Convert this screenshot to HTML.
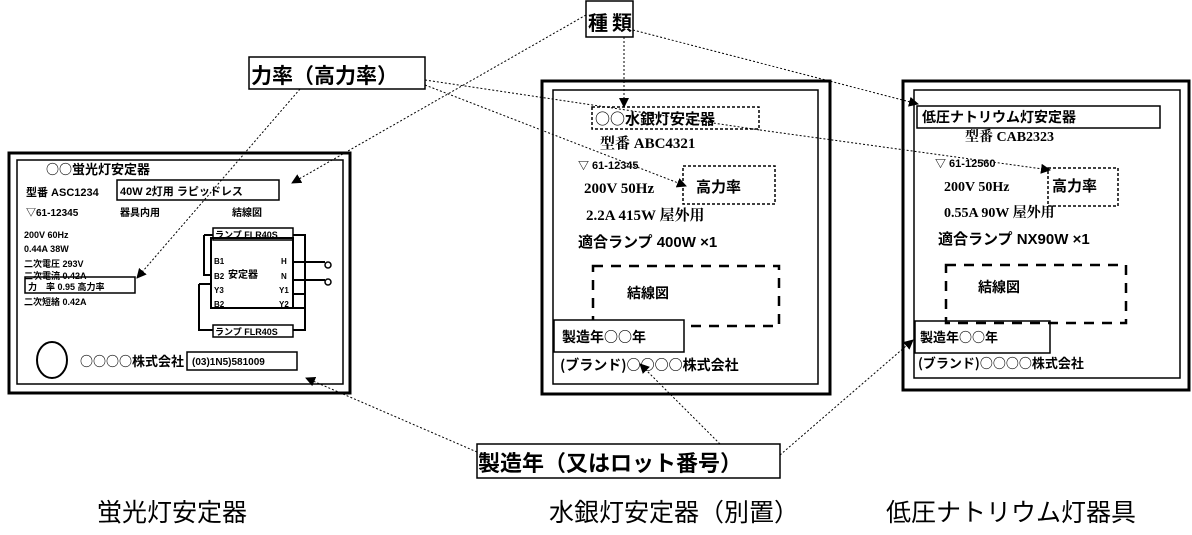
<!DOCTYPE html>
<html><head><meta charset="utf-8"><style>
html,body{margin:0;padding:0;background:#fff}
svg{display:block}
text{font-family:"Liberation Sans","Noto Sans CJK JP",sans-serif;fill:#000}
.s{font-family:"Liberation Serif","Noto Serif CJK SC",serif}
.c{font-family:"Noto Sans CJK JP",sans-serif}
.b{font-weight:bold}
</style></head><body>
<svg width="1192" height="535" viewBox="0 0 1192 535" xmlns="http://www.w3.org/2000/svg">
<defs><marker id="a" markerWidth="10" markerHeight="10" refX="9" refY="5" orient="auto" markerUnits="userSpaceOnUse"><path d="M0,0L10,5L0,10z" fill="#000"/></marker></defs>
<g fill="none" stroke="#000">
<rect x="9" y="153" width="341" height="240" stroke-width="3"/>
<rect x="17" y="160" width="326" height="224" stroke-width="1.5"/>
<rect x="117" y="180" width="162" height="20" stroke-width="1.5"/>
<rect x="25" y="277" width="110" height="16" stroke-width="1.5"/>
<rect x="211" y="238" width="82" height="70" stroke-width="2"/>
<rect x="213" y="228" width="80" height="12" stroke-width="1.5"/>
<rect x="213" y="325" width="80" height="12" stroke-width="1.5"/>
<path d="M204,235V275H211M204,235H213M293,235H305V330H293M199,284H211M199,284V330H213" stroke-width="2"/>
<path d="M293,262H325M293,280H325M305,294H293M305,308H293" stroke-width="2"/>
<circle cx="328" cy="265" r="3" stroke-width="1.5"/><circle cx="328" cy="282" r="3" stroke-width="1.5"/>
<ellipse cx="52" cy="360" rx="15" ry="18" stroke-width="2"/>
<rect x="187" y="352" width="110" height="18" stroke-width="1.5"/>
<rect x="542" y="81" width="288" height="313" stroke-width="3"/>
<rect x="553" y="90" width="265" height="294" stroke-width="1.5"/>
<rect x="592" y="107" width="167" height="22" stroke-width="1.5" stroke-dasharray="3,2"/>
<rect x="683" y="166" width="92" height="38" stroke-width="1.5" stroke-dasharray="3,2"/>
<rect x="593" y="266" width="186" height="60" stroke-width="2.5" stroke-dasharray="10,8"/>
<rect x="554" y="320" width="130" height="32" stroke-width="1.5" fill="#fff"/>
<rect x="903" y="81" width="286" height="309" stroke-width="3"/>
<rect x="914" y="90" width="266" height="288" stroke-width="1.5"/>
<rect x="917" y="106" width="243" height="22" stroke-width="1.5"/>
<rect x="1048" y="168" width="70" height="38" stroke-width="1.5" stroke-dasharray="3,2"/>
<rect x="946" y="265" width="180" height="58" stroke-width="2.5" stroke-dasharray="10,8"/>
<rect x="915" y="321" width="135" height="32" stroke-width="1.5"/>
<rect x="586" y="1" width="47" height="36" stroke-width="1.5"/>
<rect x="249" y="57" width="176" height="32" stroke-width="1.5"/>
<rect x="477" y="444" width="303" height="34" stroke-width="1.5"/>
</g>
<g fill="none" stroke="#000" stroke-width="1" stroke-dasharray="2,2">
<line x1="586" y1="15" x2="292" y2="183" marker-end="url(#a)"/>
<line x1="624" y1="37" x2="624" y2="107" marker-end="url(#a)"/>
<line x1="633" y1="30" x2="918" y2="104" marker-end="url(#a)"/>
<line x1="300" y1="89" x2="137" y2="278" marker-end="url(#a)"/>
<line x1="425" y1="85" x2="686" y2="186" marker-end="url(#a)"/>
<line x1="425" y1="80" x2="760" y2="130"/>
<path d="M760,130L1050,170" marker-end="url(#a)"/>
<line x1="477" y1="452" x2="306" y2="378" marker-end="url(#a)"/>
<line x1="720" y1="444" x2="640" y2="364" marker-end="url(#a)"/>
<line x1="780" y1="455" x2="913" y2="340" marker-end="url(#a)"/>
</g>
<g class="b">
<text x="46" y="174" font-size="13" class="c">○○蛍光灯安定器</text>
<text x="26" y="196" font-size="11">型番 ASC1234</text>
<text x="120" y="195" font-size="11">40W 2灯用 ラピッドレス</text>
<text x="26" y="216" font-size="10">▽61-12345</text>
<text x="120" y="216" font-size="10">器具内用</text>
<text x="232" y="216" font-size="10">結線図</text>
<text x="24" y="238" font-size="9">200V 60Hz</text>
<text x="24" y="252" font-size="9">0.44A 38W</text>
<text x="24" y="267" font-size="9">二次電圧 293V</text>
<text x="24" y="279" font-size="9">二次電流 0.42A</text>
<text x="28" y="290" font-size="9">力　率 0.95 高力率</text>
<text x="24" y="305" font-size="9">二次短絡 0.42A</text>
<text x="215" y="238" font-size="9">ランプ FLR40S</text>
<text x="215" y="335" font-size="9">ランプ FLR40S</text>
<text x="228" y="278" font-size="10">安定器</text>
<text x="214" y="264" font-size="8">B1</text><text x="214" y="279" font-size="8">B2</text><text x="214" y="293" font-size="8">Y3</text><text x="214" y="307" font-size="8">B2</text>
<text x="281" y="264" font-size="8">H</text><text x="281" y="279" font-size="8">N</text><text x="279" y="293" font-size="8">Y1</text><text x="279" y="307" font-size="8">Y2</text>
<text x="80" y="366" font-size="13" class="c">○○○○株式会社</text>
<text x="192" y="365" font-size="10">(03)1N5)581009</text>
<text x="595" y="124" font-size="15" class="c">○○水銀灯安定器</text>
<text x="600" y="148" font-size="15" class="s">型番 ABC4321</text>
<text x="578" y="169" font-size="11">▽ 61-12345</text>
<text x="584" y="193" font-size="15" class="s">200V   50Hz</text>
<text x="696" y="192" font-size="15">高力率</text>
<text x="586" y="220" font-size="15" class="s">2.2A   415W   屋外用</text>
<text x="578" y="247" font-size="15">適合ランプ 400W ×1</text>
<text x="627" y="298" font-size="14">結線図</text>
<text x="562" y="342" font-size="14" class="c">製造年○○年</text>
<text x="560" y="370" font-size="14" class="c">(ブランド)○○○○株式会社</text>
<text x="922" y="122" font-size="14">低圧ナトリウム灯安定器</text>
<text x="965" y="141" font-size="14" class="s">型番 CAB2323</text>
<text x="935" y="167" font-size="11">▽ 61-12560</text>
<text x="944" y="191" font-size="14" class="s">200V    50Hz</text>
<text x="1052" y="191" font-size="15">高力率</text>
<text x="944" y="217" font-size="14" class="s">0.55A    90W   屋外用</text>
<text x="938" y="244" font-size="15">適合ランプ   NX90W ×1</text>
<text x="978" y="292" font-size="14">結線図</text>
<text x="920" y="342" font-size="13" class="c">製造年○○年</text>
<text x="918" y="368" font-size="13" class="c">(ブランド)○○○○株式会社</text>
<text x="588" y="30" font-size="20">種</text><text x="612" y="30" font-size="20">類</text>
<text x="251" y="83" font-size="21">力率（高力率）</text>
<text x="478" y="471" font-size="22">製造年（又はロット番号）</text>
</g>
<text x="97" y="521" font-size="25">蛍光灯安定器</text>
<text x="549" y="521" font-size="25">水銀灯安定器（別置）</text>
<text x="886" y="521" font-size="25">低圧ナトリウム灯器具</text>
</svg>
</body></html>
